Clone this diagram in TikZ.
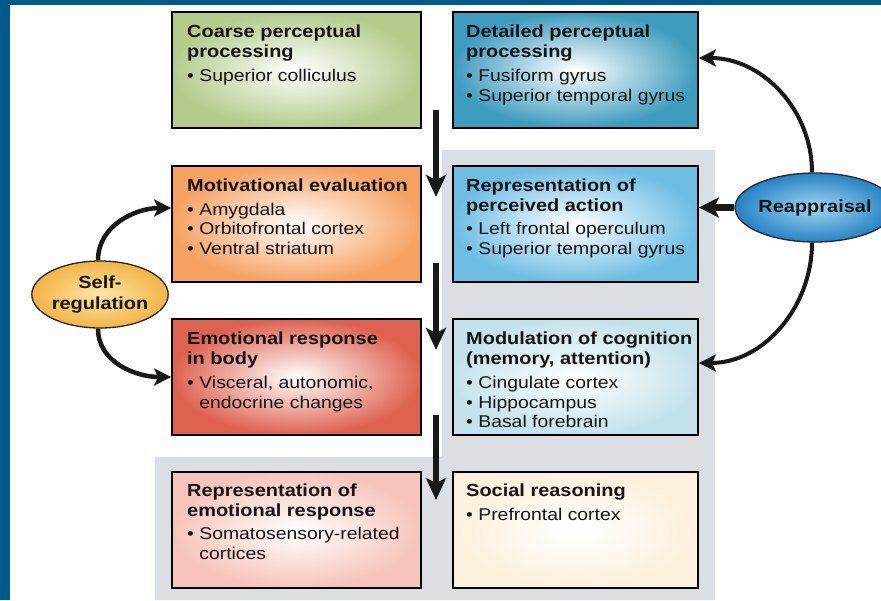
\documentclass[tikz,border=0pt]{standalone}
\usepackage{fontspec}
\newfontfamily\DiagSans[FakeStretch=1.14]{Liberation Sans}
\usetikzlibrary{arrows.meta,shapes.geometric}
\newcommand\HdF{\DiagSans\bfseries\fontsize{17.5}{20.5}\selectfont}
\newcommand\BlF{\DiagSans\fontsize{17}{19.5}\selectfont}
\newcommand\HL[1]{\hbox{\HdF #1}}
\newcommand\BL[1]{\hbox{\BlF • #1}}
\newcommand\BC[1]{\hbox{\BlF\phantom{• }#1}}
\newcommand\SK[1]{\baselineskip=#1pt\relax}
\definecolor{frameblue}{RGB}{0,91,140}
\definecolor{panelgrey}{RGB}{219,222,226}
\definecolor{cgreen}{RGB}{180,203,140}
\definecolor{cteal}{RGB}{62,156,190}
\definecolor{corange}{RGB}{246,162,98}
\definecolor{clblue}{RGB}{110,190,228}
\definecolor{cred}{RGB}{222,98,80}
\definecolor{cpale}{RGB}{196,226,236}
\definecolor{cpink}{RGB}{246,196,186}
\definecolor{ccream}{RGB}{253,240,220}
\definecolor{syellow}{RGB}{242,180,70}
\definecolor{syellowin}{RGB}{253,230,165}
\definecolor{rblue}{RGB}{36,130,196}
\definecolor{rbluein}{RGB}{160,215,242}
\definecolor{inktext}{RGB}{20,20,20}
\begin{document}
\begin{tikzpicture}[x=1pt,y=-1pt,
  box/.style={draw=black, line width=1.8pt, minimum height=116pt, inner sep=0pt, inner color=white},
  lbox/.style={box, minimum width=249pt},
  rbox/.style={box, minimum width=245pt},
  txt/.style={anchor=base west, inner sep=0pt, text=inktext},
  varrow/.style={draw=black!90, line width=6.5pt, -{Stealth[length=22pt,width=20pt,inset=5pt]}},
  harrow/.style={draw=black!90, line width=7pt, -{Stealth[length=20pt,width=20pt,inset=5pt]}},
  carrow/.style={draw=black!90, line width=4.5pt, -{Stealth[length=17pt,width=17pt,inset=4pt]}},
  oval/.style={ellipse, draw=black!85, line width=1.3pt, inner sep=0pt, align=center, font=\HdF, text=inktext}
]
\useasboundingbox (0,0) rectangle (881,600);
% frame
\fill[frameblue] (0,0) rectangle (881,600);
\fill[white] (10,5) rectangle (881,600);
% grey panel
\fill[panelgrey] (442,150) -- (715,150) -- (715,600) -- (155,600) -- (155,457) -- (442,457) -- cycle;

% boxes
\node[lbox, outer color=cgreen] (coarse) at (296.5,70) {};
\node[rbox, outer color=cteal] (det) at (575.5,70) {};
\node[lbox, outer color=corange] (mot) at (296.5,224) {};
\node[rbox, outer color=clblue] (repa) at (575.5,224) {};
\node[lbox, outer color=cred] (emo) at (296.5,377) {};
\node[rbox, outer color=cpale] (mod) at (575.5,377) {};
\node[lbox, outer color=cpink] (repe) at (296.5,530) {};
\node[rbox, outer color=ccream] (soc) at (575.5,530) {};

% texts
\node[txt] (coarseT) at (187,37) {\vtop{\SK{20.5}\HL{Coarse perceptual}\HL{processing}\SK{24}\BL{Superior colliculus}}};
\node[txt] (detT) at (466,37) {\vtop{\SK{20.5}\HL{Detailed perceptual}\HL{processing}\SK{24}\BL{Fusiform gyrus}\SK{19.5}\BL{Superior temporal gyrus}}};
\node[txt] (motT) at (187,191) {\vtop{\SK{20.5}\HL{Motivational evaluation}\SK{24}\BL{Amygdala}\SK{19.5}\BL{Orbitofrontal cortex}\BL{Ventral striatum}}};
\node[txt] (repaT) at (466,191) {\vtop{\SK{20.5}\HL{Representation of}\HL{perceived action}\SK{23}\BL{Left frontal operculum}\SK{19.5}\BL{Superior temporal gyrus}}};
\node[txt] (emoT) at (187,344) {\vtop{\SK{20.5}\HL{Emotional response}\HL{in body}\SK{24}\BL{Visceral, autonomic,}\SK{19.5}\BC{endocrine changes}}};
\node[txt] (modT) at (466,344) {\vtop{\SK{20.5}\HL{Modulation of cognition}\HL{(memory, attention)}\SK{24}\BL{Cingulate cortex}\SK{19.5}\BL{Hippocampus}\BL{Basal forebrain}}};
\node[txt] (repeT) at (187,496) {\vtop{\SK{20.5}\HL{Representation of}\HL{emotional response}\SK{23}\BL{Somatosensory-related}\SK{19.5}\BC{cortices}}};
\node[txt] (socT) at (466,496) {\vtop{\SK{20.5}\HL{Social reasoning}\SK{24}\BL{Prefrontal cortex}}};

% ellipses
\node[oval, minimum width=134pt, minimum height=67pt, inner color=syellowin, outer color=syellow] (sr) at (100,294.5) {Self-\\regulation};
\node[oval, minimum width=135pt, minimum height=69pt, inner color=rbluein, outer color=rblue] (rp) at (815,207.5) {Reappraisal};

% vertical flow arrows
\coordinate (v1a) at (436,110);
\coordinate (v1b) at (436,197);
\coordinate (v2a) at (436,263);
\coordinate (v2b) at (436,350);
\coordinate (v3a) at (436,415);
\coordinate (v3b) at (436,500);
\draw[varrow] (v1a) -- (v1b);
\draw[varrow] (v2a) -- (v2b);
\draw[varrow] (v3a) -- (v3b);

% self-regulation arrows
\draw[carrow] ([xshift=-2pt]sr.north) to[out=90,in=180] ([yshift=16pt]mot.west);
\draw[carrow] ([xshift=-2pt]sr.south) to[out=-90,in=180] (emo.west);

% reappraisal arrows
\draw[carrow, line width=4pt] ([xshift=-3pt]rp.north) to[out=90,in=0] ([yshift=12pt]det.east);
\draw[harrow] (rp.west) -- (repa.east |- rp.west);
\draw[carrow, line width=4pt] ([xshift=-3pt]rp.south) to[out=-90,in=0] ([yshift=14pt]mod.east);
\end{tikzpicture}
\end{document}
